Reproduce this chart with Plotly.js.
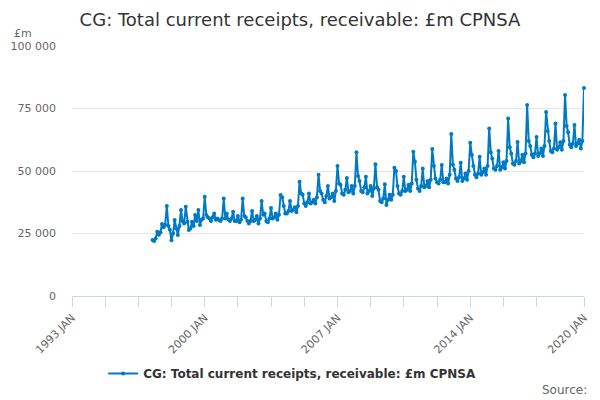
<!DOCTYPE html>
<html>
<head>
<meta charset="utf-8">
<script src="https://cdn.plot.ly/plotly-3.0.1.min.js"></script>
<style>
  html, body { margin: 0; padding: 0; background: #fff; }
  #myDiv { width: 600px; height: 400px; }
</style>
</head>
<body>
<div id="myDiv"></div>
<script>
// monthly values, £m (thousands)
var startYear = 1997;
var startMonth = 4; // series begins April 1997
var y1997 = [22.4, 22.0, 23.0, 25.7, 24.5, 25.5, 28.8, 27.5, 28.5];
var y1998 = [36.0, 28.0, 26.5, 22.3, 25.0, 30.4, 27.0, 24.4, 28.0, 34.4, 30.0, 29.0];
var y1999 = [35.7, 29.7, 26.4, 27.0, 29.7, 28.0, 32.4, 30.0, 34.4, 28.4, 30.5, 31.0];
var y2000 = [39.7, 32.4, 31.5, 31.0, 30.0, 31.5, 33.0, 30.5, 31.0, 30.4, 30.0, 31.0];
var y2001 = [39.0, 31.0, 33.0, 30.5, 30.0, 31.0, 33.7, 30.0, 30.0, 32.0, 29.5, 30.5];
var y2002 = [39.0, 32.0, 31.5, 30.0, 29.0, 30.0, 34.0, 30.0, 30.5, 32.0, 29.0, 31.0];
var y2003 = [38.0, 32.5, 33.0, 30.0, 29.5, 31.0, 35.2, 31.0, 31.5, 33.0, 30.5, 32.5];
var y2004 = [40.4, 39.5, 36.0, 33.0, 33.0, 34.0, 38.0, 34.0, 34.5, 35.5, 33.5, 36.0];
var y2005 = [45.7, 41.0, 40.5, 37.0, 36.0, 37.5, 41.0, 37.0, 37.5, 38.5, 37.0, 39.5];
var y2006 = [48.5, 42.0, 41.0, 38.5, 37.5, 40.0, 44.0, 39.0, 39.5, 41.0, 38.0, 42.0];
var y2007 = [52.0, 45.0, 44.5, 41.0, 40.5, 42.5, 47.2, 41.5, 42.0, 44.0, 41.0, 44.0];
var y2008 = [57.5, 48.0, 46.0, 42.0, 41.5, 43.5, 47.7, 41.0, 42.0, 44.0, 40.0, 43.0];
var y2009 = [52.7, 43.5, 42.5, 38.0, 37.5, 39.0, 44.7, 36.4, 38.5, 40.5, 38.5, 40.5];
var y2010 = [51.3, 50.0, 44.0, 41.0, 40.5, 42.0, 47.7, 42.0, 42.5, 44.5, 42.0, 45.0];
var y2011 = [57.7, 53.7, 46.5, 43.0, 42.0, 44.0, 51.0, 43.5, 44.0, 46.0, 43.5, 46.5];
var y2012 = [58.8, 52.0, 47.0, 45.5, 45.0, 46.5, 52.4, 45.5, 45.5, 47.0, 45.0, 48.5];
var y2013 = [64.8, 52.5, 50.5, 47.0, 46.0, 47.5, 53.3, 46.0, 47.0, 49.0, 46.5, 50.0];
var y2014 = [61.3, 56.4, 52.0, 48.5, 47.5, 49.0, 55.7, 48.5, 49.5, 51.0, 48.5, 52.0];
var y2015 = [67.0, 57.5, 55.0, 51.0, 50.5, 52.0, 58.0, 50.5, 51.5, 53.5, 51.0, 54.0];
var y2016 = [71.0, 59.5, 57.0, 53.0, 52.5, 54.0, 61.6, 53.0, 54.0, 56.5, 53.5, 57.0];
var y2017 = [76.4, 62.0, 60.0, 56.5, 55.5, 57.0, 63.6, 56.0, 57.0, 59.0, 56.0, 60.0];
var y2018 = [73.6, 66.0, 62.0, 58.0, 57.5, 59.0, 69.0, 58.5, 59.5, 61.5, 58.5, 62.0];
var y2019 = [80.4, 68.0, 65.5, 60.5, 59.5, 61.0, 68.4, 60.0, 61.0, 62.5, 59.0, 62.0];
var y2020 = [83.2];

var tickLabels = ['1993 JAN', '2000 JAN', '2007 JAN', '2014 JAN', '2020 JAN'];
var seriesName = 'CG: Total current receipts, receivable: £m CPNSA';

var allYears = [y1997, y1998, y1999, y2000, y2001, y2002, y2003, y2004, y2005, y2006,
    y2007, y2008, y2009, y2010, y2011, y2012, y2013, y2014, y2015, y2016,
    y2017, y2018, y2019, y2020];

function pad(n) { return (n < 10 ? '0' : '') + n; }

var xs = [];
var ys = [];
allYears.forEach(function (vals, i) {
    var yr = startYear + i;
    var m0 = (i === 0) ? startMonth : 1;
    vals.forEach(function (v, j) {
        xs.push(yr + '-' + pad(m0 + j) + '-01');
        ys.push(v * 1000);
    });
});

// tick marks every 21 months from 1993, labels every 7 years
var tickvals = [];
var ticktext = [];
for (var k = 0; k < 15; k++) {
    var mm = k * 21;
    tickvals.push((1993 + Math.floor(mm / 12)) + '-' + pad(mm % 12 + 1) + '-01');
    ticktext.push(k % 4 === 0 ? tickLabels[k / 4] : '');
}
tickvals.push('2020-01-01');
ticktext.push(tickLabels[4]);

var trace1 = {
    x: xs,
    y: ys,
    name: seriesName,
    type: 'scatter',
    mode: 'lines+markers',
    cliponaxis: false,
    line: { color: '#007ac3', width: 2 },
    marker: { color: '#007ac3', size: 4 },
    hoverinfo: 'x+y'
};

var layout = {
    width: 600,
    height: 400,
    font: { family: 'DejaVu Sans, sans-serif', color: '#666666', size: 11 },
    separators: '. ',
    margin: { l: 72, r: 16, t: 46, b: 104 },
    paper_bgcolor: '#ffffff',
    plot_bgcolor: '#ffffff',
    title: {
        text: 'CG: Total current receipts, receivable: £m CPNSA',
        font: { size: 18, color: '#333333' },
        x: 0.5,
        xref: 'container',
        y: 0.95,
        yanchor: 'middle'
    },
    xaxis: {
        type: 'date',
        range: ['1993-01-01', '2020-01-01'],
        tickmode: 'array',
        tickvals: tickvals,
        ticktext: ticktext,
        tickangle: -45,
        ticks: 'outside',
        ticklen: 10,
        tickcolor: '#ccd6eb',
        showline: true,
        linecolor: '#ccd6eb',
        linewidth: 1,
        showgrid: false,
        zeroline: false,
        tickfont: { size: 11, color: '#666666' }
    },
    yaxis: {
        range: [0, 100000],
        tickvals: [0, 25000, 50000, 75000, 100000],
        tickformat: ',d',
        showgrid: true,
        gridcolor: '#e6e6e6',
        zeroline: false,
        showline: false,
        ticks: '',
        ticklabelstandoff: 15,
        tickfont: { size: 11, color: '#666666' }
    },
    showlegend: true,
    legend: {
        orientation: 'h',
        x: 0.43,
        xanchor: 'center',
        y: -0.31,
        yanchor: 'middle',
        itemwidth: 30,
        font: { size: 12, color: '#333333', weight: 'bold' }
    },
    annotations: [
        {
            text: '£m',
            xref: 'paper', yref: 'paper',
            x: -0.117, y: 1.05,
            xanchor: 'left', yanchor: 'middle',
            showarrow: false,
            font: { size: 11, color: '#666666' }
        },
        {
            text: 'Source:',
            xref: 'paper', yref: 'paper',
            x: 1.01, y: -0.376,
            xanchor: 'right', yanchor: 'middle',
            showarrow: false,
            font: { size: 12, color: '#666666' }
        }
    ]
};

var config = {
    displayModeBar: false,
    responsive: false
};

Plotly.newPlot('myDiv', [trace1], layout, config);
</script>
</body>
</html>
